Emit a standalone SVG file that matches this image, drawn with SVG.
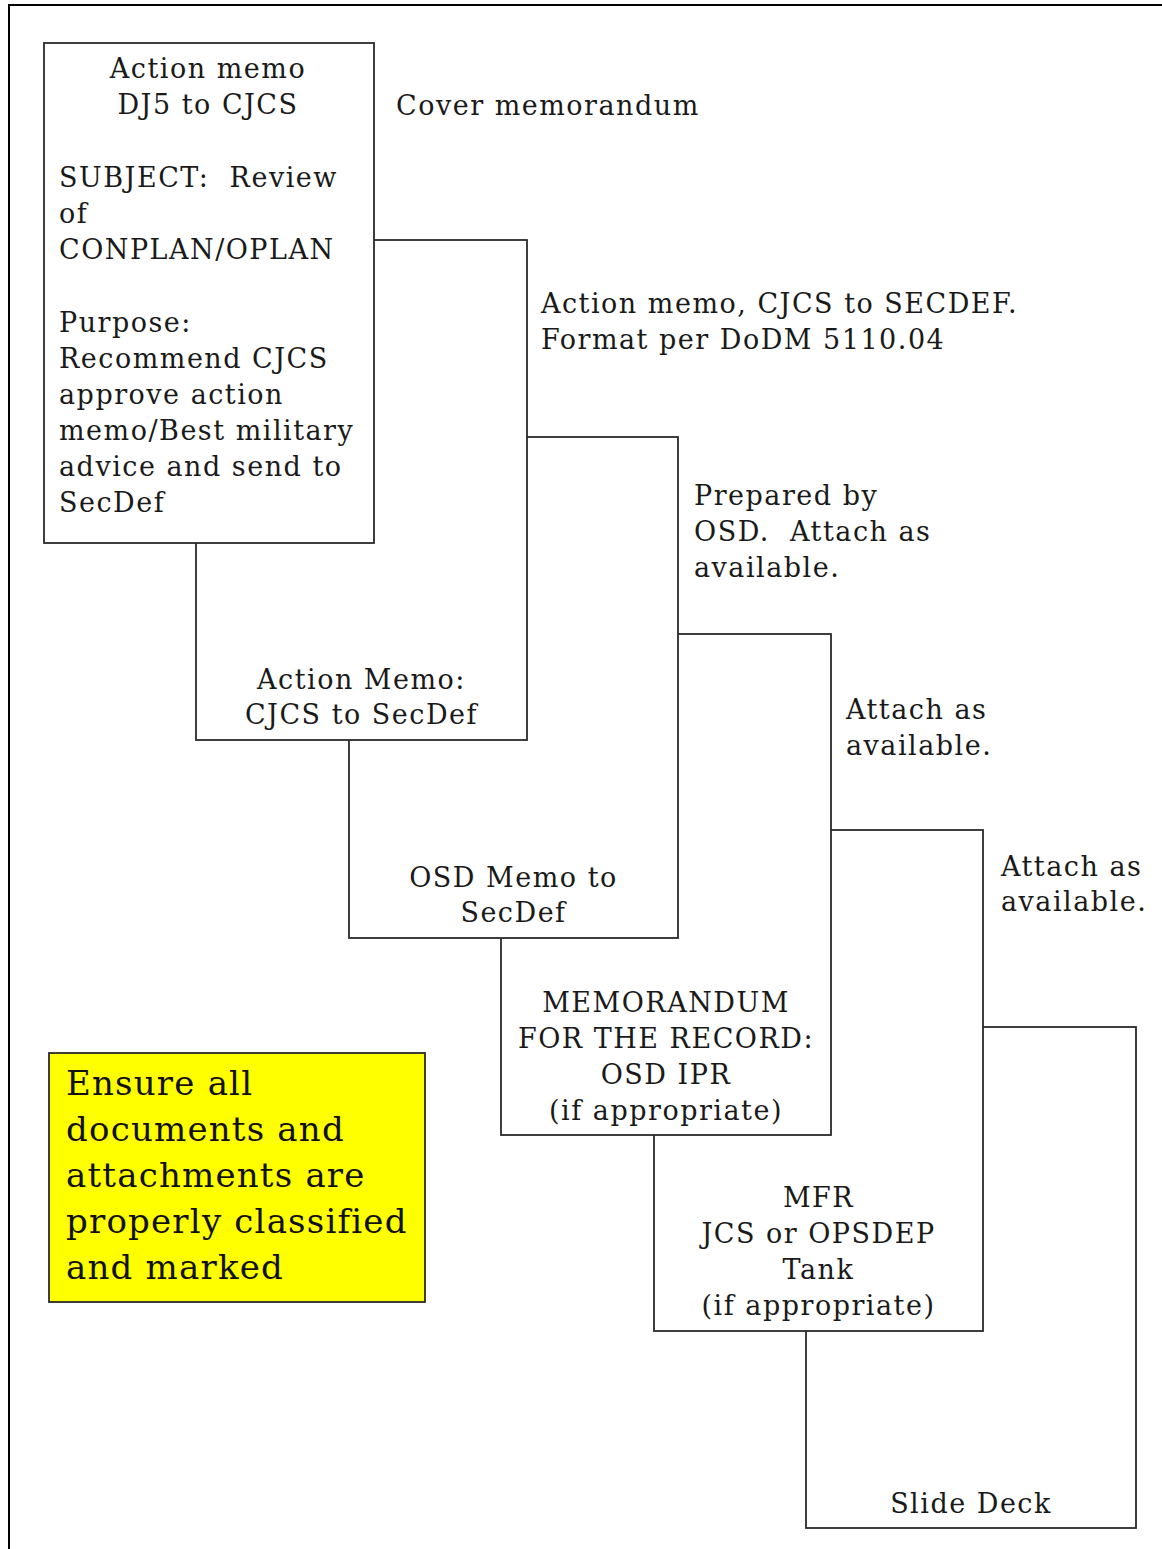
<svg xmlns="http://www.w3.org/2000/svg" width="1162" height="1549" viewBox="0 0 1162 1549">
<style>
.box{fill:#fff;stroke:#2a2a2a;stroke-width:1.8}
.t{font-family:"DejaVu Serif","Liberation Serif",serif;font-size:27px;letter-spacing:1.5px;fill:#1a1a1a}
.c{text-anchor:middle}
.y{font-family:"DejaVu Serif","Liberation Serif",serif;font-size:34px;letter-spacing:1.2px;fill:#111}
</style>
<rect x="0" y="0" width="1162" height="1549" fill="#fff"/>
<rect x="9" y="5" width="1170" height="1570" fill="none" stroke="#000" stroke-width="2"/>
<g id="connectors"></g>
<g id="box6"><rect class="box" x="806" y="1027" width="330" height="501"/>
<text class="t c" x="971" y="1513">Slide Deck</text></g>
<g id="box5"><rect class="box" x="654" y="830" width="329" height="501"/>
<text class="t c" x="818.5" y="1207">MFR</text>
<text class="t c" x="818.5" y="1243">JCS or OPSDEP</text>
<text class="t c" x="818.5" y="1279">Tank</text>
<text class="t c" x="818.5" y="1315">(if appropriate)</text></g>
<g id="box4"><rect class="box" x="501" y="634" width="330" height="501"/>
<text class="t c" x="666" y="1012">MEMORANDUM</text>
<text class="t c" x="666" y="1048">FOR THE RECORD:</text>
<text class="t c" x="666" y="1084">OSD IPR</text>
<text class="t c" x="666" y="1120">(if appropriate)</text></g>
<g id="box3"><rect class="box" x="349" y="437" width="329" height="501"/>
<text class="t c" x="513.5" y="887">OSD Memo to</text>
<text class="t c" x="513.5" y="922">SecDef</text></g>
<g id="box2"><rect class="box" x="196" y="240" width="331" height="500"/>
<text class="t c" x="361.5" y="689">Action Memo:</text>
<text class="t c" x="361.5" y="724">CJCS to SecDef</text></g>
<g id="box1"><rect class="box" x="44" y="43" width="330" height="500"/>
<text class="t c" x="208" y="78">Action memo</text>
<text class="t c" x="208" y="114">DJ5 to CJCS</text>
<text class="t" x="59" y="187" xml:space="preserve">SUBJECT:  Review</text>
<text class="t" x="59" y="223">of</text>
<text class="t" x="59" y="259">CONPLAN/OPLAN</text>
<text class="t" x="59" y="332">Purpose:</text>
<text class="t" x="59" y="368">Recommend CJCS</text>
<text class="t" x="59" y="404">approve action</text>
<text class="t" x="59" y="440">memo/Best military</text>
<text class="t" x="59" y="476">advice and send to</text>
<text class="t" x="59" y="512">SecDef</text></g>
<g id="labels">
<text class="t" x="396" y="115">Cover memorandum</text>
<text class="t" x="541" y="313">Action memo, CJCS to SECDEF.</text>
<text class="t" x="541" y="349">Format per DoDM 5110.04</text>
<text class="t" x="694" y="505">Prepared by</text>
<text class="t" x="694" y="541" xml:space="preserve">OSD.  Attach as</text>
<text class="t" x="694" y="577">available.</text>
<text class="t" x="846" y="719">Attach as</text>
<text class="t" x="846" y="755">available.</text>
<text class="t" x="1001" y="876">Attach as</text>
<text class="t" x="1001" y="911">available.</text>
</g>
<g id="note"><rect x="49" y="1053" width="376" height="249" fill="#ffff00" stroke="#2a2a2a" stroke-width="1.8"/>
<text class="y" x="66" y="1095">Ensure all</text>
<text class="y" x="66" y="1141">documents and</text>
<text class="y" x="66" y="1187">attachments are</text>
<text class="y" x="66" y="1233">properly classified</text>
<text class="y" x="66" y="1279">and marked</text></g>
</svg>
